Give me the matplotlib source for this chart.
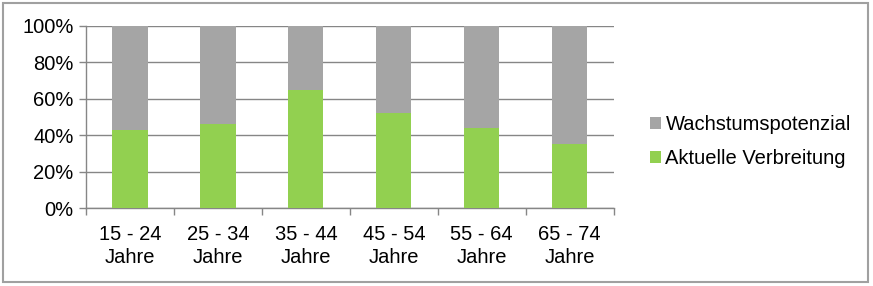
import numpy as np
import matplotlib.pyplot as plt
import matplotlib.patches as mpatches

plt.rcParams['font.family'] = ['Liberation Sans', 'DejaVu Sans']

groups = ['15 - 24\nJahre', '25 - 34\nJahre', '35 - 44\nJahre',
          '45 - 54\nJahre', '55 - 64\nJahre', '65 - 74\nJahre']
verbreitung = [43, 46, 65, 52, 44, 35]
potenzial = [100 - v for v in verbreitung]

green = '#92D050'
grey = '#A5A5A5'
linegrey = '#868686'

fig = plt.figure(figsize=(8.73, 2.86), dpi=100)
ax = fig.add_axes([0.0985, 0.2717, 0.6045, 0.6374])

x = np.arange(len(groups))
b1 = ax.bar(x, verbreitung, width=0.4, color=green, label='Aktuelle Verbreitung', zorder=3)
b2 = ax.bar(x, potenzial, width=0.4, bottom=verbreitung, color=grey, label='Wachstumspotenzial', zorder=3)

ax.set_xlim(-0.5, len(groups) - 0.5)
ax.set_ylim(0, 100)
ax.set_yticks(np.arange(0, 101, 20))
ax.set_yticklabels([str(v) + '%' for v in range(0, 101, 20)], fontsize=14.5)
ax.set_xticks(x)
ax.set_xticklabels(groups, fontsize=14.5, linespacing=1.3)
ax.set_xticks(np.arange(-0.5, len(groups)), minor=True)
ax.tick_params(axis='x', which='major', length=0, pad=12)
ax.tick_params(axis='x', which='minor', length=5, color=linegrey, width=1)
ax.tick_params(axis='y', length=5, color=linegrey, width=1, pad=4)

ax.grid(axis='y', color=linegrey, linewidth=1, zorder=0)
for s in ['top', 'right']:
    ax.spines[s].set_visible(False)
for s in ['left', 'bottom']:
    ax.spines[s].set_color(linegrey)
    ax.spines[s].set_linewidth(1)

ax.legend(handles=[b2, b1], loc='center left', bbox_to_anchor=(1.035, 0.364),
          frameon=False, fontsize=14.5, handlelength=0.55, handleheight=0.55,
          handletextpad=0.2, labelspacing=0.75)

fig.patches.append(mpatches.Rectangle((0.004, 0.014), 0.99, 0.975, transform=fig.transFigure,
                                      fill=False, edgecolor='#A0A0A0', linewidth=1.5))

plt.savefig('out.png', dpi=100)
